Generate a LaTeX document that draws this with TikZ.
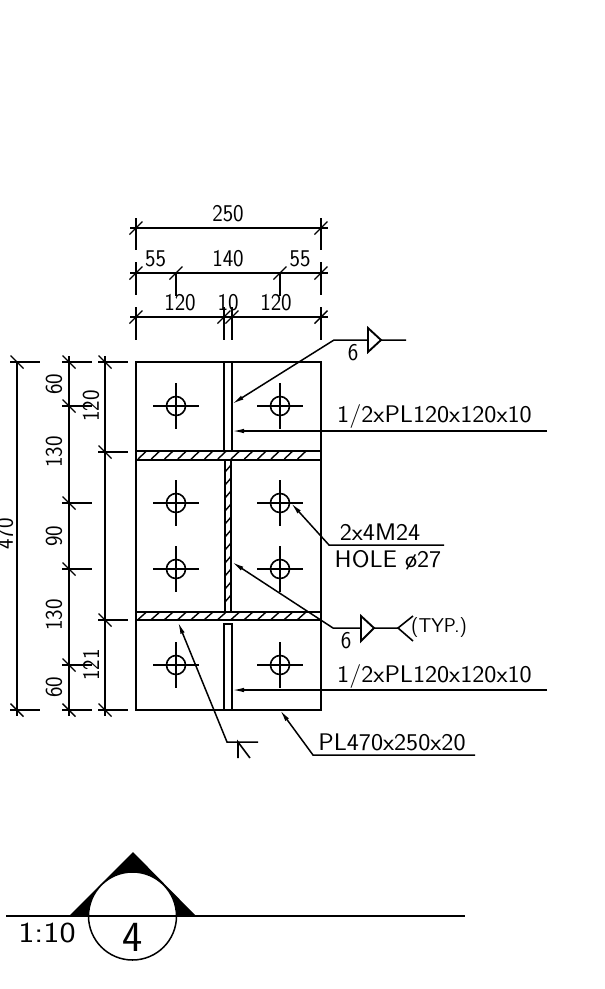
\documentclass[tikz,border=0pt]{standalone}
\usepackage{tikz}
\usetikzlibrary{arrows.meta}

\tikzset{
	plate/.style={line width=1.9pt},
	thinline/.style={line width=1.4pt},
	leader/.style={line width=1.5pt, -{Latex[length=12pt,width=4.5pt]}},
	dimtext/.style={font=\sffamily\fontsize{24}{26}\selectfont, inner sep=0pt, transform shape, xscale=.93},
	notetext/.style={font=\sffamily\fontsize{24}{26}\selectfont, inner sep=0pt, transform shape, xscale=1.07},
	htick/.pic={\draw[thinline] (-6.5,6.5) -- (6.5,-6.5);},
	vtick/.pic={\draw[thinline] (-6.5,-6.5) -- (6.5,6.5);},
	bolthole/.pic={
		\draw[line width=1.6pt] (0,0) circle (9.5);
		\draw[line width=1.6pt] (-23,0) -- (23,0) (0,-23) -- (0,23);
	}
}

\begin{document}
\begin{tikzpicture}[x=1pt, y=-1pt]
	\useasboundingbox (0,0) rectangle (605,989);
	% plate
	\draw[plate] (136,362) coordinate (PA) rectangle (321,710) coordinate (PB);
	\draw[plate] (224,362) -- (224,451) (232,362) -- (232,451);
	\draw[plate, fill=white] (224,624) rectangle (232,710);
	\draw[plate] (136,451) rectangle (321,460);
	\draw[plate] (136,612) rectangle (321,620);
	\draw[plate] (225,460) rectangle (231,612);
	\foreach \x in {138,151.3,...,310} {
		\draw[thinline] (\x,459) -- (\x+8.5,451);
		\draw[thinline] (\x,619.5) -- (\x+8.5,612);
	}
	\foreach \y in {472,485,...,610} {
		\draw[thinline] (225,\y) -- (231,\y-7);
	}
	% holes
	\pic at (176,406) {bolthole};
	\pic at (280,406) {bolthole};
	\pic at (176,503) {bolthole};
	\pic at (280,503) {bolthole};
	\pic at (176,569) {bolthole};
	\pic at (280,569) {bolthole};
	\pic at (176,665) {bolthole};
	\pic at (280,665) {bolthole};
	% dims on top
	\draw[thinline] (130,228) -- (328,228);
	\draw[thinline] (136,218) -- (136,250) (321,218) -- (321,250);
	\pic at (136,228) {htick};
	\pic at (321,228) {htick};
	\node[dimtext] (dimAll) at (228,214) {250};
	\draw[thinline] (130,273) -- (328,273);
	\draw[thinline] (136,262) -- (136,295) (321,262) -- (321,295);
	\draw[thinline] (176,273) -- (176,296) (280,273) -- (280,296);
	\pic at (136,273) {htick};
	\pic at (176,273) {htick};
	\pic at (280,273) {htick};
	\pic at (321,273) {htick};
	\node[dimtext] (dimEndA) at (155.5,258.5) {55};
	\node[dimtext] (dimGauge) at (228,258.5) {140};
	\node[dimtext] (dimEndB) at (300,258.5) {55};
	\draw[thinline] (130,317) -- (328,317);
	\draw[thinline] (136,307) -- (136,340) (321,307) -- (321,340);
	\draw[thinline] (224,307) -- (224,340) (232,307) -- (232,340);
	\pic at (136,317) {htick};
	\pic at (224,317) {htick};
	\pic at (232,317) {htick};
	\pic at (321,317) {htick};
	\node[dimtext] (dimOutA) at (180,303) {120};
	\node[dimtext] (dimWeb) at (228,303) {10};
	\node[dimtext] (dimOutB) at (276,303) {120};
	% dims on left
	\draw[thinline] (17,362) -- (17,716);
	\draw[thinline] (10,362) -- (40,362) (10,710) -- (40,710);
	\pic at (17,362) {vtick};
	\pic at (17,710) {vtick};
	\node[rotate=90, dimtext] (dimHeight) at (5,534) {470};
	\draw[thinline] (69,356) -- (69,716);
	\draw[thinline] (62,362) -- (92,362) (62,406) -- (92,406) (62,503) -- (92,503);
	\draw[thinline] (62,569) -- (92,569) (62,665) -- (92,665) (62,710) -- (92,710);
	\pic at (69,362) {vtick};
	\pic at (69,406) {vtick};
	\pic at (69,503) {vtick};
	\pic at (69,569) {vtick};
	\pic at (69,665) {vtick};
	\pic at (69,710) {vtick};
	\node[rotate=90, dimtext] (dimTopA) at (54,384) {60};
	\node[rotate=90, dimtext] (dimTopB) at (54,452) {130};
	\node[rotate=90, dimtext] (dimMid) at (54,536) {90};
	\node[rotate=90, dimtext] (dimLowB) at (54,615) {130};
	\node[rotate=90, dimtext] (dimLowA) at (54,687) {60};
	\draw[thinline] (105,356) -- (105,716);
	\draw[thinline] (98,362) -- (128,362) (98,452) -- (128,452);
	\draw[thinline] (98,620) -- (128,620) (98,710) -- (128,710);
	\pic at (105,362) {vtick};
	\pic at (105,452) {vtick};
	\pic at (105,620) {vtick};
	\pic at (105,710) {vtick};
	\node[rotate=90, dimtext] (dimStiffA) at (91,406) {120};
	\node[rotate=90, dimtext] (dimStiffB) at (91,665) {121};
	% upper weld
	\draw[leader] (406,340) coordinate (WA) -- (334,340) -- (232,404);
	\draw[plate, fill=white] (368,328) -- (381,340) -- (368,352) -- cycle;
	\node[dimtext] (weldA) at (353,353) {6};
	% stiffener notes
	\draw[leader] (547,431) coordinate (NA) -- (232,431);
	\node[notetext] (noteA) at (434.5,416) {1/2xPL120x120x10};
	\draw[leader] (547,690) coordinate (NB) -- (232,690);
	\node[notetext] (noteB) at (434.5,676) {1/2xPL120x120x10};
	% holes note
	\draw[leader] (444,545) coordinate (NC) -- (329,545) -- (291,503);
	\node[notetext] (noteC) at (380,532) {2x4M24};
	\node[notetext] (noteD) at (388,560) {HOLE  \o27};
	% lower weld
	\draw[leader] (398,628) coordinate (WB) -- (333,628) -- (232,562);
	\draw[plate, fill=white] (361,616) -- (374,628) -- (361,641) -- cycle;
	\draw[line width=1.6pt] (413,616) -- (398,628) -- (413,641);
	\node[dimtext] (weldB) at (346,641) {6};
	\node[font=\sffamily\fontsize{20}{22}\selectfont, inner sep=0pt] (typ) at (439,627) {(TYP.)};
	% plate note
	\draw[leader] (475,755) coordinate (ND) -- (313,755) -- (280,710);
	\node[notetext] (noteE) at (392,742) {PL470x250x20};
	% flange weld
	\draw[leader] (258,742) coordinate (WC) -- (227,742) -- (178,622);
	\draw[line width=1.6pt] (238,758) -- (238,742) -- (250,758);
	% title mark
	\fill (69,916) -- (133,852) -- (196,916) -- cycle;
	\draw[line width=1.5pt, fill=white] (132.5,916) coordinate (TC) circle (44);
	\draw[line width=1.7pt] (6,916) coordinate (TA) -- (465,916) coordinate (TB);
	\node[font=\sffamily\fontsize{43}{46}\selectfont, inner sep=0pt] (titleNo) at (133,937) {4};
	\node[font=\sffamily\fontsize{29}{32}\selectfont, inner sep=0pt, transform shape, xscale=1.18] (titleScale) at (47,933) {1:10};
\end{tikzpicture}
\end{document}
